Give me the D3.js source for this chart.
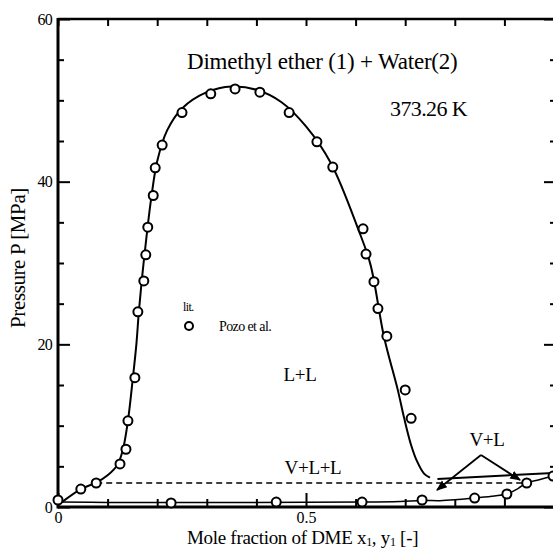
<!DOCTYPE html>
<html><head><meta charset="utf-8">
<script src="https://cdn.jsdelivr.net/npm/d3@7"></script>
<style>
body{margin:0;background:#fff}
svg{display:block}
text{font-family:"Liberation Serif","Times New Roman",serif;fill:#000}
</style>
</head><body>
<svg id="chart" width="553" height="552"></svg>
<script>
// ---- data ----
// literature points (Pozo et al.)
const expX = [0.000,0.046,0.077,0.125,0.137,0.141,0.155,0.161,0.173,0.177,0.181,0.192,0.196,0.210,0.250,0.308,0.357,0.407,0.466,0.522,0.554,0.615,0.621,0.637,0.645,0.663,0.700,0.712,
              0.228,0.440,0.613,0.734,0.840,0.905,0.945,0.998];
const expP = [0.86,2.2,2.95,5.3,7.1,10.6,15.9,24.0,27.8,31.0,34.4,38.3,41.7,44.5,48.5,50.8,51.4,51.0,48.5,44.9,41.8,34.2,31.1,27.7,24.4,21.0,14.4,10.9,
              0.5,0.6,0.6,0.86,1.1,1.6,2.95,3.8];
// liquid-liquid dome (calculated)
const domeX = [0.008,0.046,0.077,0.100,0.120,0.131,0.141,0.151,0.158,0.163,0.170,0.178,0.188,0.200,0.220,0.250,0.300,0.350,0.400,0.450,0.500,0.550,0.605,0.630,0.657,0.685,0.698,0.712,0.724,0.738,0.750];
const domeP = [0.6,2.2,3.0,3.9,5.2,7.1,10.6,15.9,20.0,24.0,28.5,33.0,38.0,42.5,46.3,49.0,51.0,51.7,51.3,49.8,46.8,42.3,34.2,29.8,21.0,14.4,10.9,7.6,5.6,4.1,3.6];
// DME-rich liquid branch of V+L
const vlX = [0.765,1.000];
const vlP = [3.45,4.2];
// lower (vapour) curve
const lowX = [0.000,0.100,0.300,0.500,0.620,0.690,0.734,0.770,0.800,0.840,0.880,0.905,0.928,0.945,0.970,1.000];
const lowP = [0.6,0.56,0.55,0.57,0.6,0.68,0.8,0.78,0.88,1.1,1.35,1.6,2.3,2.95,3.35,3.85];
// three-phase line
const vllX = [0.077,0.945];
const vllP = [2.95,2.95];
// axes ticks
const xMajor = [0,0.5];
const xMinor = [0.1,0.2,0.3,0.4,0.6,0.7,0.8,0.9];
const yMajor = [0,20,40,60];
const yMinor = [5,10,15,25,30,35,45,50,55];

// ---- drawing ----
const svg = d3.select("#chart");
const x = d3.scaleLinear().domain([0,1]).range([58,554]);
const y = d3.scaleLinear().domain([0,60]).range([507,19]);

function clean(g){ g.select(".domain").remove(); g.selectAll("line").attr("stroke","#000").attr("stroke-width",2); }

// bottom
svg.append("g").attr("transform","translate(0,507)")
  .call(d3.axisBottom(x).tickValues(xMajor).tickSize(-14).tickPadding(5).tickFormat(d=>d===0?"0":d3.format(".1f")(d)))
  .call(clean).call(g=>g.selectAll("text").attr("font-size",16).attr("font-family","Liberation Serif"));
svg.append("g").attr("transform","translate(0,507)")
  .call(d3.axisBottom(x).tickValues(xMinor).tickSize(-8).tickFormat(""))
  .call(clean);
// top
svg.append("g").attr("transform","translate(0,19)")
  .call(d3.axisTop(x).tickValues(xMajor.concat(xMinor)).tickSize(-7).tickFormat(""))
  .call(clean);
// left
svg.append("g").attr("transform","translate(58,0)")
  .call(d3.axisLeft(y).tickValues(yMajor).tickSize(-12).tickPadding(6))
  .call(clean).call(g=>g.selectAll("text").attr("font-size",16).attr("letter-spacing","-0.8").attr("font-family","Liberation Serif"));
svg.append("g").attr("transform","translate(58,0)")
  .call(d3.axisLeft(y).tickValues(yMinor).tickSize(-6).tickFormat(""))
  .call(clean);
// right
svg.append("g").attr("transform","translate(557,0)")
  .call(d3.axisRight(y).tickValues(yMajor).tickSize(-13).tickFormat(""))
  .call(clean);
svg.append("g").attr("transform","translate(557,0)")
  .call(d3.axisRight(y).tickValues(yMinor).tickSize(-7).tickFormat(""))
  .call(clean);

// frame
svg.append("line").attr("x1",x(0)).attr("x2",x(0)).attr("y1",y(60)-1).attr("y2",y(0)+1.5).attr("stroke","#000").attr("stroke-width",3);
svg.append("line").attr("x1",x(0)).attr("x2",557).attr("y1",y(60)).attr("y2",y(60)).attr("stroke","#000").attr("stroke-width",2.5);
svg.append("line").attr("x1",x(0)).attr("x2",557).attr("y1",y(0)).attr("y2",y(0)).attr("stroke","#000").attr("stroke-width",3);

const zip = (a,b)=>a.map((v,i)=>[v,b[i]]);
const smooth = d3.line().x(d=>x(d[0])).y(d=>y(d[1])).curve(d3.curveCatmullRom.alpha(0.5));
const straight = d3.line().x(d=>x(d[0])).y(d=>y(d[1]));

svg.append("path").datum(zip(domeX,domeP)).attr("d",smooth)
  .attr("fill","none").attr("stroke","#000").attr("stroke-width",2);
svg.append("path").datum(zip(vlX,vlP)).attr("d",straight)
  .attr("fill","none").attr("stroke","#000").attr("stroke-width",2);
svg.append("path").datum(zip(lowX,lowP)).attr("d",smooth)
  .attr("fill","none").attr("stroke","#000").attr("stroke-width",1.5);
svg.append("path").datum(zip(vllX,vllP)).attr("d",straight)
  .attr("fill","none").attr("stroke","#000").attr("stroke-width",1.5).attr("stroke-dasharray","6,4");

// markers
svg.append("g").selectAll("circle").data(zip(expX,expP)).join("circle")
  .attr("cx",d=>x(d[0])).attr("cy",d=>y(d[1])).attr("r",4.5)
  .attr("fill","#fff").attr("stroke","#000").attr("stroke-width",2);

// V+L arrows
const defs = svg.append("defs");
defs.append("marker").attr("id","ah").attr("viewBox","0 0 10 10").attr("refX",9).attr("refY",5)
  .attr("markerWidth",6).attr("markerHeight",6).attr("orient","auto")
  .append("path").attr("d","M0,1 L10,5 L0,9 Z").attr("fill","#000");
const apex = [481,455];
[[437,490],[520,480]].forEach(p=>{
  svg.append("line").attr("x1",apex[0]).attr("y1",apex[1]).attr("x2",p[0]).attr("y2",p[1])
    .attr("stroke","#000").attr("stroke-width",1.8).attr("marker-end","url(#ah)");
});

// texts
svg.append("text").attr("x",187).attr("y",69).attr("font-size",23).attr("letter-spacing","-0.2").text("Dimethyl ether (1) + Water(2)");
svg.append("text").attr("x",390).attr("y",116).attr("font-size",22).attr("letter-spacing","-0.6").text("373.26 K");
svg.append("text").attr("x",183).attr("y",311).attr("font-size",12).attr("letter-spacing","-0.6").text("lit.");
svg.append("circle").attr("cx",189).attr("cy",326).attr("r",4).attr("fill","#fff").attr("stroke","#000").attr("stroke-width",2);
svg.append("text").attr("x",219).attr("y",331).attr("font-size",14).attr("letter-spacing","-0.6").text("Pozo et al.");
svg.append("text").attr("x",300).attr("y",381).attr("text-anchor","middle").attr("font-size",19).attr("letter-spacing","-0.3").text("L+L");
svg.append("text").attr("x",313).attr("y",474).attr("text-anchor","middle").attr("font-size",19).attr("letter-spacing","-0.3").text("V+L+L");
svg.append("text").attr("x",487).attr("y",446).attr("text-anchor","middle").attr("font-size",19).attr("letter-spacing","-0.3").text("V+L");

// axis titles
svg.append("text").attr("transform","translate(25,258) rotate(-90)").attr("text-anchor","middle").attr("font-size",21).attr("letter-spacing","-0.4").text("Pressure P [MPa]");
const xl = svg.append("text").attr("x",187).attr("y",544).attr("font-size",19).attr("letter-spacing","-0.3");
xl.append("tspan").text("Mole fraction of DME x");
xl.append("tspan").attr("font-size",12).attr("dy",2).text("1");
xl.append("tspan").attr("dy",-2).text(", y");
xl.append("tspan").attr("font-size",12).attr("dy",2).text("1");
xl.append("tspan").attr("dy",-2).text(" [-]");
</script>
</body></html>
